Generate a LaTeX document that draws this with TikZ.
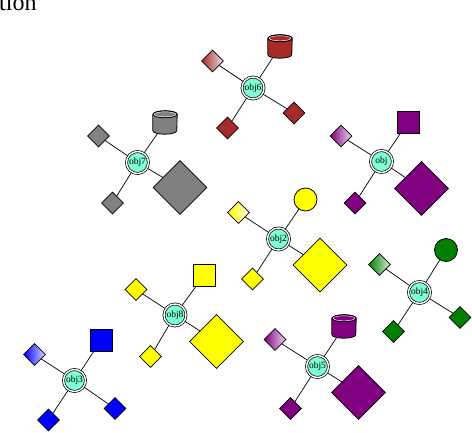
\documentclass[tikz,border=0pt]{standalone}
\usepackage{fontspec}
\setmainfont{Liberation Serif}
\usetikzlibrary{shapes.geometric,backgrounds}
\definecolor{gvbrown}{HTML}{A52A2A}
\definecolor{gvgray}{HTML}{808080}
\definecolor{gvpurple}{HTML}{800080}
\definecolor{gvgreen}{HTML}{008000}
\definecolor{gvyellow}{HTML}{FFFF00}
\definecolor{gvblue}{HTML}{0000FF}
\definecolor{aqua}{HTML}{7FFFD4}
\tikzset{
  hub/.style={circle, draw=black, double=white, double distance=1.4pt, line width=0.7pt, fill=aqua, minimum size=22pt, inner sep=0pt, font=\fontsize{9.5}{10}\selectfont},
  shp/.style={draw=black, line width=0.8pt, inner sep=0pt},
  dia/.style={shp, diamond, minimum size=22pt, fill=#1},
  gdia/.style={shp, diamond, minimum size=22pt, left color=#1, right color=#1!15},
  bdia/.style={shp, diamond, minimum size=54pt, fill=#1},
  sq/.style={shp, rectangle, minimum size=22pt, fill=#1},
  cyl/.style={rectangle, inner sep=0pt, minimum width=24pt, minimum height=23pt},
  circ/.style={shp, circle, minimum size=23pt, fill=#1},
  edge/.style={draw=black, line width=0.7pt}
}
\newcommand\mycyl[2]{%
  \filldraw[fill=#2, draw=black, line width=0.8pt]
    ([yshift=-3.5pt]#1.north west) -- ([yshift=3.5pt]#1.south west)
    arc[start angle=180, end angle=360, x radius=12pt, y radius=3.5pt]
    -- ([yshift=-3.5pt]#1.north east)
    arc[start angle=0, end angle=180, x radius=12pt, y radius=3.5pt] -- cycle;
  \draw[black, line width=0.8pt] ([yshift=-3.5pt]#1.north) ellipse [x radius=12pt, y radius=3.5pt];
  \draw[white, line width=0.4pt] ([yshift=-3.5pt]#1.north) ellipse [x radius=10.8pt, y radius=2.5pt];
}
\begin{document}
\begin{tikzpicture}[x=1pt,y=-1pt]
\useasboundingbox (0,0) rectangle (472,432);
\clip (0,0) rectangle (472,432);
\node[anchor=base west, inner sep=0pt, font=\fontsize{24}{26}\selectfont] (title) at (-1,10.5) {tion};
% obj6
\node[hub] (h6) at (253,88) {obj6};
\node[gdia=gvbrown] (h6a) at (212.5,61) {};
\node[cyl] (h6b) at (280,46.5) {};
\node[dia=gvbrown] (h6c) at (227.5,128) {};
\node[dia=gvbrown] (h6d) at (294,113) {};
% obj7
\node[hub] (h7) at (137.5,162.5) {obj7};
\node[dia=gvgray] (h7a) at (98.5,136) {};
\node[cyl] (h7b) at (165,122.5) {};
\node[bdia=gvgray] (h7c) at (180,187.5) {};
\node[dia=gvgray] (h7d) at (112.5,203) {};
% obj
\node[hub] (h1) at (381.5,161.5) {obj};
\node[gdia=gvpurple] (h1a) at (341,136) {};
\node[sq=gvpurple] (h1b) at (408,122) {};
\node[bdia=gvpurple] (h1c) at (421.5,188.5) {};
\node[dia=gvpurple] (h1d) at (355,203) {};
% obj2
\node[hub] (h2) at (278.5,239) {obj2};
\node[gdia=gvyellow] (h2a) at (238.5,212.5) {};
\node[circ=gvyellow] (h2b) at (305.5,199.5) {};
\node[bdia=gvyellow] (h2c) at (320,265) {};
\node[dia=gvyellow] (h2d) at (252.5,279) {};
% obj4
\node[hub] (h4) at (419.5,292.5) {obj4};
\node[gdia=gvgreen] (h4a) at (379.5,264.5) {};
\node[circ=gvgreen] (h4b) at (446,250) {};
\node[dia=gvgreen] (h4c) at (460,317.5) {};
\node[dia=gvgreen] (h4d) at (393.5,331.5) {};
% obj3
\node[hub] (h3) at (74.5,380.5) {obj3};
\node[gdia=gvblue] (h3a) at (34.5,354.5) {};
\node[sq=gvblue] (h3b) at (101,340.5) {};
\node[dia=gvblue] (h3c) at (115,408.5) {};
\node[dia=gvblue] (h3d) at (48.5,420) {};
% obj5
\node[hub] (h5) at (317.5,366.5) {obj5};
\node[gdia=gvpurple] (h5a) at (275,339.5) {};
\node[cyl] (h5b) at (344,326.5) {};
\node[bdia=gvpurple] (h5c) at (358.5,392.5) {};
\node[dia=gvpurple] (h5d) at (290.5,408.5) {};
% obj8
\node[hub] (h8) at (175,315) {obj8};
\node[dia=gvyellow] (h8a) at (136,289.5) {};
\node[sq=gvyellow] (h8b) at (204,275.5) {};
\node[bdia=gvyellow] (h8c) at (216.5,341.5) {};
\node[dia=gvyellow] (h8d) at (150.5,356.5) {};
\mycyl{h6b}{gvbrown}
\mycyl{h7b}{gvgray}
\mycyl{h5b}{gvpurple}
\begin{scope}[on background layer]
\foreach \h in {h6,h7,h1,h2,h4,h3,h5,h8}{
  \foreach \s in {a,b,c,d}{
    \draw[edge] (\h.center) -- (\h\s.center);
  }
}
\end{scope}
\end{tikzpicture}
\end{document}
